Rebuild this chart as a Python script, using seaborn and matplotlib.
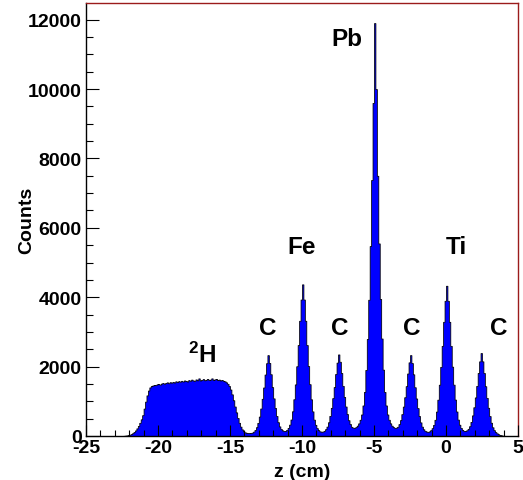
import numpy as np
import pandas as pd
import matplotlib
matplotlib.use("Agg")
import matplotlib.pyplot as plt
import seaborn as sns
from matplotlib.ticker import MultipleLocator

# 0.1 cm bins from -25 to 5 cm
z_min, z_max, bin_width = -25.0, 5.0, 0.1

# counts per bin, one list per 5 cm of z
counts_m25_m20 = [0, 0, 0, 0, 0, 0, 0, 0, 0, 0,
                  0, 0, 0, 0, 0, 0, 0, 0, 0, 0,
                  0, 0, 0, 0, 0, 3, 6, 10, 16, 25,
                  38, 55, 80, 115, 160, 220, 290, 380, 480, 600,
                  790, 990, 1170, 1310, 1400, 1440, 1455, 1470, 1465, 1490]
counts_m20_m15 = [1500, 1480, 1510, 1525, 1505, 1530, 1545, 1520, 1550, 1535,
                  1560, 1540, 1575, 1555, 1580, 1565, 1590, 1570, 1600, 1585,
                  1570, 1610, 1590, 1625, 1600, 1590, 1630, 1605, 1660, 1600,
                  1615, 1640, 1605, 1620, 1645, 1610, 1625, 1660, 1615, 1630,
                  1645, 1610, 1625, 1600, 1615, 1590, 1575, 1545, 1505, 1440]
counts_m15_m10 = [1340, 1200, 1030, 850, 680, 520, 380, 270, 190, 135,
                  105, 92, 85, 84, 88, 98, 125, 173, 253, 378,
                  559, 792, 1072, 1398, 1771, 2097, 2330, 2105, 1780, 1408,
                  1084, 807, 578, 397, 276, 202, 162, 145, 147, 177,
                  233, 327, 475, 711, 1059, 1486, 2010, 2622, 3321, 3933]
counts_m10_m5 = [4370, 3933, 3321, 2622, 2016, 1493, 1057, 709, 471, 322,
                 226, 168, 134, 122, 127, 149, 196, 271, 395, 579,
                 811, 1091, 1410, 1786, 2115, 2350, 2140, 1816, 1445, 1126,
                 850, 630, 455, 345, 265, 240, 235, 255, 297, 364,
                 468, 620, 880, 1270, 1904, 2797, 3927, 5474, 7378, 9600]
counts_m5_0 = [11900, 10000, 7500, 5550, 3950, 2810, 1912, 1270, 880, 620,
               468, 364, 297, 255, 235, 240, 265, 342, 456, 629,
               847, 1117, 1436, 1801, 2122, 2330, 2102, 1777, 1405, 1081,
               804, 574, 392, 269, 193, 149, 127, 120, 132, 167,
               225, 319, 467, 703, 1047, 1478, 1992, 2598, 3291, 3897]
counts_0_5 = [4330, 3897, 3291, 2598, 1998, 1480, 1049, 706, 472, 325,
              233, 177, 148, 145, 164, 206, 281, 406, 593, 828,
              1111, 1444, 1816, 2151, 2390, 2151, 1816, 1434, 1099, 813,
              574, 382, 251, 167, 112, 76, 50, 30, 18, 10,
              5, 2, 1, 0, 0, 0, 0, 0, 0, 0]

# target labels
target_names = ["Pb", "Fe", "C", "C", "C", "C", "Ti", r"$\mathbf{^{2}H}$"]
target_z = [-6.86, -10.0, -12.36, -7.38, -2.36, 3.63, 0.69, -16.95]
target_y = [11280, 5280, 2935, 2935, 2935, 2935, 5280, 2130]

counts = np.concatenate([counts_m25_m20, counts_m20_m15, counts_m15_m10,
                         counts_m10_m5, counts_m5_0, counts_0_5])
n_bins = len(counts)
centers = z_min + bin_width * (np.arange(n_bins) + 0.5)
df = pd.DataFrame({"z": centers, "counts": counts})

sns.set_style("white")
plt.rcParams["font.family"] = ["Liberation Sans", "DejaVu Sans"]
plt.rcParams["font.weight"] = "bold"
plt.rcParams["mathtext.fontset"] = "custom"
plt.rcParams["mathtext.bf"] = "Liberation Sans:bold"
plt.rcParams["mathtext.rm"] = "Liberation Sans:bold"
plt.rcParams["axes.unicode_minus"] = False
for key in ["text.color", "axes.labelcolor", "xtick.color", "ytick.color"]:
    plt.rcParams[key] = "black"

fig = plt.figure(figsize=(5.23, 4.81), dpi=100)
ax = fig.add_axes([0.1644, 0.0915, 0.826, 0.9002])

sns.histplot(data=df, x="z", weights="counts", bins=n_bins,
             binrange=(z_min, z_max), element="step",
             fill=True, color="#0000ff", edgecolor="black", linewidth=0.55,
             alpha=1, ax=ax)

ax.set_xlim(z_min, z_max)
ax.set_ylim(0, 12480)
ax.set_axisbelow(False)
ax.xaxis.set_major_locator(MultipleLocator(5))
ax.xaxis.set_minor_locator(MultipleLocator(1))
ax.yaxis.set_major_locator(MultipleLocator(2000))
ax.yaxis.set_minor_locator(MultipleLocator(500))

ax.tick_params(axis="both", which="both", direction="in", top=False, right=False,
               bottom=True, left=True, labelsize=14, color="black", width=0.8)
ax.tick_params(axis="y", which="major", length=9.4, pad=3)
ax.tick_params(axis="y", which="minor", length=5)
ax.tick_params(axis="x", which="major", length=7.7, pad=2)
ax.tick_params(axis="x", which="minor", length=4)
for lab in ax.get_xticklabels() + ax.get_yticklabels():
    lab.set_fontweight("bold")

for side in ["left", "bottom"]:
    ax.spines[side].set_color("black")
    ax.spines[side].set_linewidth(1)
for side in ["top", "right"]:
    ax.spines[side].set_color("#9b1b1b")
    ax.spines[side].set_linewidth(1)

ax.set_xlabel("z (cm)", fontsize=14, fontweight="bold", labelpad=5)
ax.set_ylabel("Counts", fontsize=14, fontweight="bold", labelpad=-5)

for name, zx, yy in zip(target_names, target_z, target_y):
    ax.text(zx, yy, name, fontsize=17.5, fontweight="bold",
            ha="center", va="baseline")

fig.savefig("out.png", dpi=100)
